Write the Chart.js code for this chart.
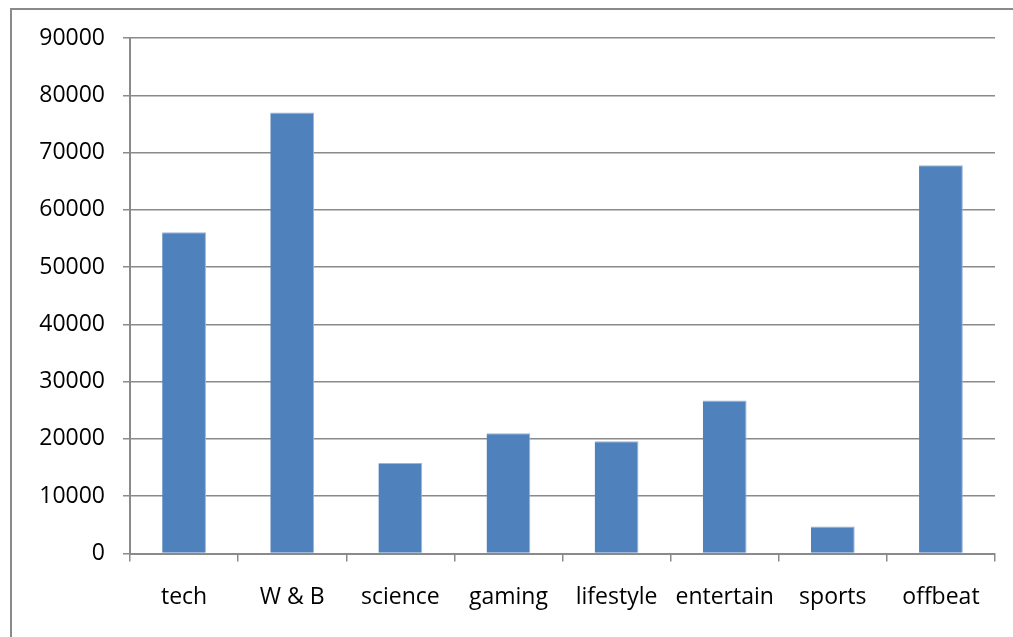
<!DOCTYPE html>
<html>
<head>
<meta charset="utf-8">
<script src="https://cdn.jsdelivr.net/npm/chart.js@4.4.1/dist/chart.umd.min.js"></script>
<style>
  html, body { margin: 0; padding: 0; background: #fff; }
  #wrap { position: relative; width: 1013px; height: 637px; }
  #frame {
    position: absolute; left: 10px; top: 8px; right: 0; bottom: 0;
    border-top: 2px solid #8a8a8a; border-left: 2px solid #8a8a8a;
    pointer-events: none;
  }
  canvas { position: absolute; left: 0; top: 0; }
</style>
</head>
<body>
<div id="wrap">
  <canvas id="c" width="1013" height="637"></canvas>
  <div id="frame"></div>
</div>
<script>
// Categories and their totals
const categories = ['tech', 'W & B', 'science', 'gaming', 'lifestyle', 'entertain', 'sports', 'offbeat'];
const values = [56100, 77000, 15800, 21000, 19600, 26700, 4700, 67800];

// Value axis range
const yMin = 0;
const yMax = 90000;
const yStep = 10000;

const gridColor = '#8a8a8a';
const font = { family: 'Open Sans', size: 23 };

new Chart(document.getElementById('c'), {
  type: 'bar',
  data: {
    labels: categories,
    datasets: [{
      data: values,
      backgroundColor: '#4f81bd',
      borderColor: '#9bb5d9',
      borderWidth: { top: 1, right: 1, left: 0, bottom: 0 },
      borderSkipped: false,
      barPercentage: 0.405,
      categoryPercentage: 1.0
    }]
  },
  options: {
    responsive: false,
    animation: false,
    layout: { padding: { left: 0, right: 18, top: 38, bottom: 0 } },
    plugins: { legend: { display: false }, tooltip: { enabled: false } },
    scales: {
      x: {
        grid: {
          offset: true,
          drawOnChartArea: false,
          drawTicks: true,
          tickLength: 8,
          color: gridColor,
          lineWidth: 1.5
        },
        border: { color: gridColor, width: 2 },
        ticks: { color: '#000', font: font, padding: 22, maxRotation: 0, autoSkip: false },
        afterFit: (s) => { s.height = 83.5; }
      },
      y: {
        min: yMin,
        max: yMax,
        grid: {
          color: gridColor,
          lineWidth: 1.5,
          drawTicks: true,
          tickLength: 7
        },
        border: { color: gridColor, width: 2 },
        ticks: {
          stepSize: yStep,
          color: '#000',
          font: font,
          padding: 18,
          callback: (v) => String(v)
        },
        afterFit: (s) => { s.width = 130; }
      }
    }
  }
});
</script>
</body>
</html>
